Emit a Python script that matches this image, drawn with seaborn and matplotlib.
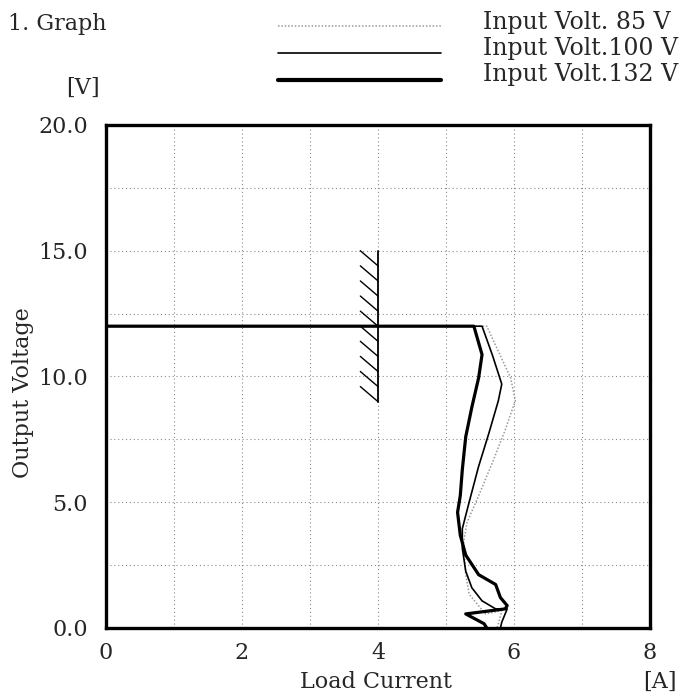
import numpy as np
import pandas as pd
import matplotlib
matplotlib.use('Agg')
import matplotlib.pyplot as plt
from matplotlib.lines import Line2D
import seaborn as sns

# curves (load current [A], output voltage [V])
amps_85 = [0, 5.60, 5.77, 5.95, 6.02, 5.87, 5.68, 5.48, 5.31, 5.26, 5.29, 5.34, 5.58, 5.82, 5.77, 5.75]
volts_85 = [12, 12, 11.0, 9.95, 9.04, 7.87, 6.56, 5.26, 4.2, 3.43, 2.12, 1.34, 0.56, 0.69, 0.17, 0.0]

amps_100 = [0, 5.53, 5.68, 5.82, 5.77, 5.63, 5.48, 5.34, 5.24, 5.24, 5.29, 5.38, 5.53, 5.73, 5.90, 5.82, 5.80]
volts_100 = [12, 12, 10.87, 9.7, 9.04, 7.74, 6.43, 5.0, 3.95, 3.17, 2.26, 1.6, 1.08, 0.76, 0.76, 0.23, 0.0]

amps_132 = [0, 5.41, 5.53, 5.48, 5.38, 5.29, 5.24, 5.21, 5.17, 5.21, 5.29, 5.48, 5.73, 5.80, 5.90, 5.87, 5.29, 5.56, 5.60]
volts_132 = [12, 12, 10.87, 9.95, 8.78, 7.6, 6.3, 5.26, 4.6, 3.69, 2.9, 2.12, 1.73, 1.21, 0.89, 0.76, 0.56, 0.17, 0.0]

labels = ['Input Volt. 85 V', 'Input Volt.100 V', 'Input Volt.132 V']

# spec marker: vertical bar at 4 A from 9 V to 15 V with hatch strokes
spec_amp = 4
spec_lo, spec_hi = 9, 15
hatch_ends = [9.0, 9.6, 10.2, 10.8, 11.4, 12.0, 12.6, 13.2, 13.8, 14.4]

x_ticks = [0, 2, 4, 6, 8]
y_ticks = [0, 5, 10, 15, 20]

sns.set_style('white')
plt.rcParams['font.family'] = ['DejaVu Serif', 'Liberation Serif']
FS = 16

W, H = 690, 696
fig = plt.figure(figsize=(W / 100, H / 100), dpi=100)
ax = fig.add_axes([106 / W, 1 - 628 / H, 544 / W, 503 / H])

styles = [
    (amps_85, volts_85, dict(color='#9a9a9a', lw=1.1, ls=(0, (1, 1.2)))),
    (amps_100, volts_100, dict(color='black', lw=1.2, ls='-')),
    (amps_132, volts_132, dict(color='black', lw=2.3, ls='-')),
]
for (xs, ys, st), lab in zip(styles, labels):
    df = pd.DataFrame({'amp': xs, 'volt': ys})
    sns.lineplot(data=df, x='amp', y='volt', sort=False, estimator=None,
                 ax=ax, color=st['color'], lw=st['lw'], linestyle=st['ls'],
                 label=lab, legend=False, zorder=3)

# hatched spec bar
ax.plot([spec_amp, spec_amp], [spec_lo, spec_hi], color='black', lw=1.3, zorder=3)
for ye in hatch_ends:
    ax.plot([spec_amp, spec_amp - 0.26], [ye, ye + 0.6], color='black', lw=1.0, zorder=3)

ax.set_xlim(0, 8)
ax.set_ylim(0, 20)
ax.set_xticks(x_ticks)
ax.set_xticks([1, 3, 5, 7], minor=True)
ax.set_yticks(y_ticks)
ax.set_yticks([2.5, 7.5, 12.5, 17.5], minor=True)
ax.set_xticklabels([str(v) for v in x_ticks], fontsize=FS)
ax.set_yticklabels(['%.1f' % v for v in y_ticks], fontsize=FS)
ax.tick_params(which='both', direction='in', length=7, width=1.6, color='black',
               top=False, right=False)
ax.tick_params(axis='x', which='major', pad=10)
ax.tick_params(axis='y', which='major', pad=13)

ax.grid(True, which='both', color='#8c8c8c', lw=0.8, ls=(0, (1, 2.5)))
for sp in ax.spines.values():
    sp.set_linewidth(2.4)
    sp.set_color('black')
    sp.set_zorder(5)

ax.set_xlabel('')
ax.set_ylabel('')
fig.text(376 / W, 1 - 682 / H, 'Load Current', ha='center', va='center', fontsize=FS)
fig.text(660 / W, 1 - 682 / H, '[A]', ha='center', va='center', fontsize=FS)
fig.text(23 / W, 1 - 393 / H, 'Output Voltage', ha='center', va='center',
         rotation=90, fontsize=FS)
fig.text(83 / W, 1 - 88 / H, '[V]', ha='center', va='center', fontsize=FS)
fig.text(8 / W, 1 - 24 / H, '1. Graph', ha='left', va='center', fontsize=FS)

# legend drawn at the top of the figure
line_y = [26, 53, 80]
text_y = [22, 48, 74]
for (xs, ys, st), lab, ly, ty in zip(styles, labels, line_y, text_y):
    fig.add_artist(Line2D([278 / W, 441 / W], [1 - ly / H, 1 - ly / H],
                          transform=fig.transFigure, color=st['color'],
                          lw=st['lw'] + (0.7 if st['lw'] > 2 else 0),
                          linestyle=st['ls']))
    fig.text(483 / W, 1 - ty / H, lab, ha='left', va='center', fontsize=17)

fig.savefig('out.png', dpi=100)
